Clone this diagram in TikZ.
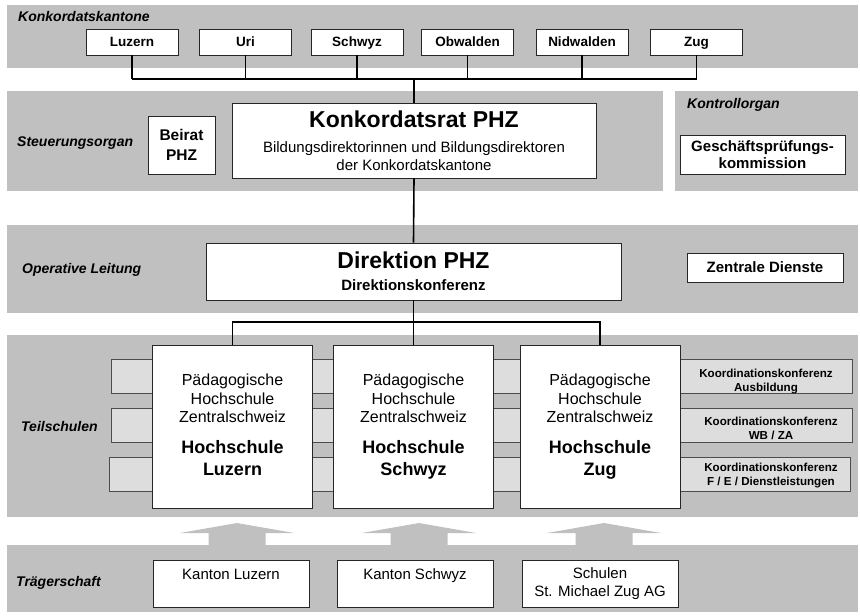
\documentclass[tikz,border=0pt]{standalone}
\usepackage{fontspec}
\setmainfont{Liberation Sans}
\usetikzlibrary{calc}
\definecolor{bandgray}{RGB}{192,192,192}
\definecolor{stripgray}{RGB}{221,221,221}
\newcommand{\hsbig}{\fontsize{18}{22}\selectfont\bfseries}
\tikzset{
  box/.style={draw=black!85,line width=0.8pt,fill=white,inner sep=0,align=center},
  canton/.style={box,minimum width=92,minimum height=26,text height=10,text depth=1,font=\fontsize{13.5}{16}\selectfont\bfseries},
  section/.style={anchor=west,inner sep=0,text height=10,text depth=3,font=\fontsize{14}{16}\selectfont\bfseries\itshape},
  hsbox/.style={box,minimum width=160,minimum height=163,font=\fontsize{16}{18.5}\selectfont},
  traeger/.style={box,minimum width=156,minimum height=47,font=\fontsize{15}{18}\selectfont},
  strip/.style={draw=black!70,line width=0.8pt,fill=stripgray,inner sep=0,minimum width=741,minimum height=34},
  koord/.style={inner sep=0,align=center,font=\fontsize{11.6}{14}\selectfont\bfseries},
  conn/.style={line width=1.6pt}
}

\begin{document}
\begin{tikzpicture}[x=1pt,y=-1pt]
\useasboundingbox (0,0) rectangle (860,616);
% bands
\fill[bandgray] (7,5) rectangle (858,68);
\fill[bandgray] (7,91) rectangle (663,191);
\fill[bandgray] (675,91) rectangle (858,191);
\fill[bandgray] (7,225) rectangle (858,313);
\fill[bandgray] (7,335) rectangle (858,517);
\fill[bandgray] (7,545) rectangle (858,612);
% arrows from the Traegerschaft
\foreach \cx in {237,419,604}
  \fill[bandgray] (\cx-28.5,546) -- (\cx-28.5,533) -- (\cx-57,533) -- (\cx,523)
    -- (\cx+57,533) -- (\cx+28.5,533) -- (\cx+28.5,546) -- cycle;

\node[section] (tKanton) at (18,18) {Konkordatskantone};
\node[section] (tSteuer) at (17,143) {Steuerungsorgan};
\node[section] (tKontroll) at (687,105) {Kontrollorgan};
\node[section] (tOperativ) at (22,270) {Operative Leitung};
\node[section] (tTeil) at (21,428) {Teilschulen};
\node[section] (tTraeger) at (16,583) {Trägerschaft};

\foreach \n/\t/\x in {kLuzern/Luzern/132,kUri/Uri/245.5,kSchwyz/Schwyz/357,
    kObwalden/Obwalden/467.5,kNidwalden/Nidwalden/582,kZug/Zug/696.5}
  \node[canton] (\n) at (\x,42) {\t};

\node[box,minimum width=67,minimum height=58,font=\fontsize{15.5}{20}\selectfont\bfseries] (beirat) at (181.5,145) {Beirat\\PHZ};
\node[box,minimum width=364,minimum height=75,font=\fontsize{15}{18}\selectfont] (rat) at (414,140.5)
  {{\fontsize{23}{26}\selectfont\bfseries Konkordatsrat PHZ}\\[7pt]Bildungsdirektorinnen und Bildungsdirektoren\\[0.5pt]der Konkordatskantone};
\node[box,minimum width=165,minimum height=39,font=\fontsize{15}{16.5}\selectfont\bfseries] (gpk) at (762.5,154.5) {Geschäftsprüfungs-\\kommission};

\node[box,minimum width=415,minimum height=57,font=\fontsize{15}{18}\selectfont\bfseries] (dir) at (413.5,271.5)
  {{\fontsize{23}{26}\selectfont Direktion PHZ}\\[4pt]Direktionskonferenz};
\node[box,minimum width=156,minimum height=29,font=\fontsize{15}{18}\selectfont\bfseries] (zd) at (765,267.5) {Zentrale Dienste};

% Koordinationskonferenzen
\node[strip] (s1) at (481.5,376) {};
\node[strip] (s2) at (481.5,425) {};
\node[strip] (s3) at (480,474) {};
\node[koord] (kkAus) at (766,381.5) {Koordinationskonferenz\\Ausbildung};
\node[koord] (kkWB) at (771,428.5) {Koordinationskonferenz\\WB / ZA};
\node[koord] (kkFE) at (771,475.5) {Koordinationskonferenz\\F / E / Dienstleistungen};

\node[hsbox] (hsLuzern) at (232.5,426.5) {Pädagogische\\Hochschule\\Zentralschweiz\\[12pt]{\hsbig Hochschule}\\[3.5pt]{\hsbig Luzern\vphantom{y}}};
\node[hsbox] (hsSchwyz) at (413.5,426.5) {Pädagogische\\Hochschule\\Zentralschweiz\\[12pt]{\hsbig Hochschule}\\[3.5pt]{\hsbig Schwyz}};
\node[hsbox] (hsZug) at (600,426.5) {Pädagogische\\Hochschule\\Zentralschweiz\\[12pt]{\hsbig Hochschule}\\[3.5pt]{\hsbig Zug}};

\node[traeger] (tLuzern) at (231,583.5) {Kanton Luzern\\\phantom{X}};
\node[traeger] (tSchwyz) at (415,583.5) {Kanton Schwyz\\\phantom{X}};
\node[traeger] (tZug) at (600,583.5) {Schulen\\St. Michael Zug AG};

% connectors
\coordinate (bus) at (414,79);
\foreach \n in {kLuzern,kUri,kSchwyz,kObwalden,kNidwalden,kZug}
  \draw[conn] (\n.south) -- (\n.south |- bus);
\draw[conn] (kLuzern.south |- bus) -- (kZug.south |- bus);
\draw[conn] (rat.north |- bus) -- (rat.north);
\draw[conn] (rat.south) -- (dir.north);
\coordinate (split) at (413.5,322);
\draw[conn] (dir.south) -- (split);
\draw[conn] (hsLuzern.north) |- (split) -| (hsZug.north);
\draw[conn] (split) -- (hsSchwyz.north);
\end{tikzpicture}
\end{document}
